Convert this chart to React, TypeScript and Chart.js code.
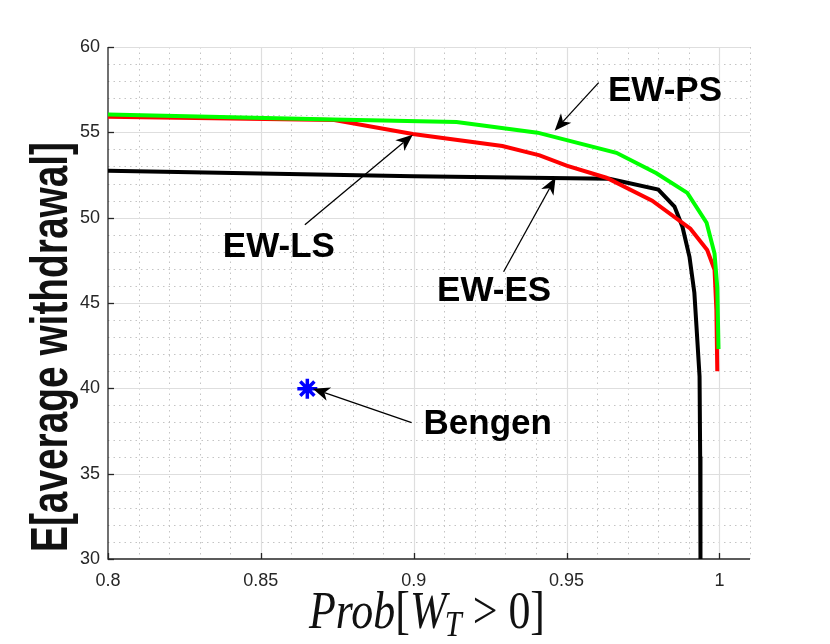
import React, { useEffect, useRef } from 'react';
import { Chart, registerables } from 'chart.js';

Chart.register(...registerables);

// ---- axis ticks ----
const xTicks = [0.8, 0.85, 0.9, 0.95, 1.0];
const xTickLabels = ['0.8', '0.85', '0.9', '0.95', '1'];
const yTicks = [30, 35, 40, 45, 50, 55, 60];
const yTickLabels = ['30', '35', '40', '45', '50', '55', '60'];
const xMin = 0.8;
const xMax = 1.01;
const yMin = 30;
const yMax = 60;
const xMinorStep = 0.01;
const yMinorStep = 1;

// ---- series: EW-PS (green) ----
const psX = [0.8, 0.8735, 0.914, 0.9405, 0.9663, 0.9794, 0.9895, 0.9958, 0.9984, 0.9993, 0.9997];
const psY = [56.05, 55.75, 55.6, 54.98, 53.8, 52.6, 51.45, 49.7, 47.9, 45.9, 42.3];

// ---- series: EW-LS (red) ----
const lsX = [0.8, 0.874, 0.8997, 0.929, 0.9412, 0.95, 0.963, 0.978, 0.9905, 0.996, 0.9984, 0.999, 0.9993];
const lsY = [55.92, 55.72, 54.9, 54.2, 53.65, 53.05, 52.34, 51.0, 49.35, 48.1, 46.95, 44.6, 41.0];

// ---- series: EW-ES (black) ----
const esX = [0.8, 0.9, 0.964, 0.98, 0.9853, 0.9879, 0.9902, 0.9918, 0.9925, 0.9935, 0.9937, 0.9938];
const esY = [52.75, 52.42, 52.28, 51.65, 50.65, 49.47, 47.71, 45.6, 43.6, 40.7, 36.0, 30.0];

// ---- Bengen point ----
const bengenX = [0.8652];
const bengenY = [39.98];

// ---- annotations (data coordinates) ----
const annotationTexts = ['EW-PS', 'EW-LS', 'EW-ES', 'Bengen'];
const annotationTextX = [0.9822, 0.8559, 0.9263, 0.9242];
const annotationTextY = [56.86, 47.71, 45.13, 37.34];
const arrowTailX = [0.9605, 0.8644, 0.9294, 0.8993];
const arrowTailY = [57.91, 49.59, 46.83, 37.99];
const arrowHeadX = [0.9461, 0.8997, 0.9464, 0.867];
const arrowHeadY = [55.1, 54.86, 52.35, 39.98];

const xAxisLabelParts = ['Prob', '[', 'W', 'T', ' > ', '0]'];
const yAxisLabel = 'E[average withdrawal]';

const AXIS_COLOR = '#262626';

function drawArrow(ctx: CanvasRenderingContext2D, x0: number, y0: number, x1: number, y1: number) {
  const dx = x1 - x0;
  const dy = y1 - y0;
  const len = Math.hypot(dx, dy);
  const ux = dx / len;
  const uy = dy / len;
  const nx = -uy;
  const ny = ux;
  const L = 17;
  const W = 14;
  const back = 0.72;
  ctx.save();
  ctx.strokeStyle = '#000';
  ctx.fillStyle = '#000';
  ctx.lineWidth = 1.3;
  ctx.beginPath();
  ctx.moveTo(x0, y0);
  ctx.lineTo(x1 - ux * L * back, y1 - uy * L * back);
  ctx.stroke();
  ctx.beginPath();
  ctx.moveTo(x1, y1);
  ctx.lineTo(x1 - ux * L + nx * W / 2, y1 - uy * L + ny * W / 2);
  ctx.lineTo(x1 - ux * L * back, y1 - uy * L * back);
  ctx.lineTo(x1 - ux * L - nx * W / 2, y1 - uy * L - ny * W / 2);
  ctx.closePath();
  ctx.fill();
  ctx.restore();
}

const decorPlugin = {
  id: 'matlabDecor',
  beforeDatasetsDraw(chart: any) {
    const { ctx, chartArea } = chart;
    const xs = chart.scales.x;
    const ys = chart.scales.y;
    const { left, right, top, bottom } = chartArea;
    ctx.save();
    // minor grid
    ctx.strokeStyle = '#c4c4c4';
    ctx.lineWidth = 1;
    ctx.setLineDash([1.5, 4]);
    const nx = Math.round((xMax - xMin) / xMinorStep);
    for (let i = 1; i <= nx; i++) {
      const v = xMin + i * xMinorStep;
      if (xTicks.some((t) => Math.abs(t - v) < 1e-9)) continue;
      const px = Math.round(xs.getPixelForValue(v)) + 0.5;
      ctx.beginPath();
      ctx.moveTo(px, top);
      ctx.lineTo(px, bottom);
      ctx.stroke();
    }
    const ny = Math.round((yMax - yMin) / yMinorStep);
    for (let i = 1; i < ny; i++) {
      const v = yMin + i * yMinorStep;
      if (yTicks.some((t) => Math.abs(t - v) < 1e-9)) continue;
      const py = Math.round(ys.getPixelForValue(v)) + 0.5;
      ctx.beginPath();
      ctx.moveTo(left, py);
      ctx.lineTo(right, py);
      ctx.stroke();
    }
    // major grid
    ctx.setLineDash([]);
    ctx.strokeStyle = '#dedede';
    ctx.lineWidth = 1.2;
    xTicks.forEach((v) => {
      if (v === xMin) return;
      const px = Math.round(xs.getPixelForValue(v)) + 0.5;
      ctx.beginPath();
      ctx.moveTo(px, top);
      ctx.lineTo(px, bottom);
      ctx.stroke();
    });
    yTicks.forEach((v) => {
      if (v === yMin) return;
      const py = Math.round(ys.getPixelForValue(v)) + 0.5;
      ctx.beginPath();
      ctx.moveTo(left, py);
      ctx.lineTo(right, py);
      ctx.stroke();
    });
    // axes
    ctx.strokeStyle = AXIS_COLOR;
    ctx.lineWidth = 1.3;
    ctx.beginPath();
    ctx.moveTo(left, top);
    ctx.lineTo(left, bottom);
    ctx.lineTo(right, bottom);
    ctx.stroke();
    // inward ticks
    xTicks.forEach((v) => {
      const px = Math.round(xs.getPixelForValue(v)) + 0.5;
      ctx.beginPath();
      ctx.moveTo(px, bottom);
      ctx.lineTo(px, bottom - 6);
      ctx.stroke();
    });
    yTicks.forEach((v) => {
      const py = Math.round(ys.getPixelForValue(v)) + 0.5;
      ctx.beginPath();
      ctx.moveTo(left, py);
      ctx.lineTo(left + 6, py);
      ctx.stroke();
    });
    ctx.restore();
  },
  afterDraw(chart: any) {
    const { ctx, chartArea } = chart;
    const xs = chart.scales.x;
    const ys = chart.scales.y;
    ctx.save();
    // annotations
    annotationTexts.forEach((t, i) => {
      drawArrow(
        ctx,
        xs.getPixelForValue(arrowTailX[i]),
        ys.getPixelForValue(arrowTailY[i]),
        xs.getPixelForValue(arrowHeadX[i]),
        ys.getPixelForValue(arrowHeadY[i])
      );
      ctx.fillStyle = '#000';
      ctx.font = 'bold 35px "Liberation Sans", Arial, sans-serif';
      ctx.textAlign = 'center';
      ctx.textBaseline = 'alphabetic';
      ctx.fillText(t, xs.getPixelForValue(annotationTextX[i]), ys.getPixelForValue(annotationTextY[i]));
    });

    // y axis label (bold, condensed)
    ctx.save();
    ctx.translate(chartArea.left - 41, (chartArea.top + chartArea.bottom) / 2 + 44);
    ctx.rotate(-Math.PI / 2);
    ctx.fillStyle = '#111';
    ctx.font = 'bold 52px "Liberation Sans", Arial, sans-serif';
    ctx.textAlign = 'center';
    ctx.textBaseline = 'alphabetic';
    ctx.fillText(yAxisLabel, 0, 0, 410);
    ctx.restore();

    // x axis label (LaTeX-like)
    const F = 52;
    const fonts = [
      `italic ${F}px "Liberation Serif", serif`,
      `${F}px "Liberation Serif", serif`,
      `italic ${F}px "Liberation Serif", serif`,
      `italic ${Math.round(F * 0.7)}px "Liberation Serif", serif`,
      `${F}px "Liberation Serif", serif`,
      `${F}px "Liberation Serif", serif`,
    ];
    const dys = [0, 0, 0, F * 0.16, 0, 0];
    const kern = [0, 0, -F * 0.04, 0, 0, 0];
    let total = 0;
    const widths = xAxisLabelParts.map((p, i) => {
      ctx.font = fonts[i];
      const w = ctx.measureText(p).width + kern[i];
      total += w;
      return w;
    });
    const target = 236;
    const sx = target / total;
    const cx = (chartArea.left + chartArea.right) / 2;
    ctx.save();
    ctx.translate(cx - 2 - target / 2, chartArea.bottom + 69);
    ctx.scale(sx, 1);
    ctx.fillStyle = '#111';
    ctx.textAlign = 'left';
    ctx.textBaseline = 'alphabetic';
    let xx = 0;
    xAxisLabelParts.forEach((p, i) => {
      ctx.font = fonts[i];
      ctx.fillText(p, xx, dys[i]);
      xx += widths[i];
    });
    ctx.restore();
    ctx.restore();
  },
};

export default function App() {
  const ref = useRef<HTMLCanvasElement | null>(null);
  useEffect(() => {
    if (!ref.current) return;
    const tickFont = { family: '"Liberation Sans", Arial, sans-serif', size: 18 };
    const chart = new Chart(ref.current, {
      type: 'scatter',
      data: {
        datasets: [
          {
            label: 'EW-PS',
            data: psX.map((x, i) => ({ x, y: psY[i] })),
            borderColor: '#00ff00',
            backgroundColor: '#00ff00',
            borderWidth: 4,
            pointRadius: 0,
            showLine: true,
            order: 1,
          },
          {
            label: 'EW-LS',
            data: lsX.map((x, i) => ({ x, y: lsY[i] })),
            borderColor: '#ff0000',
            backgroundColor: '#ff0000',
            borderWidth: 4,
            pointRadius: 0,
            showLine: true,
            order: 2,
          },
          {
            label: 'EW-ES',
            data: esX.map((x, i) => ({ x, y: esY[i] })),
            borderColor: '#000000',
            backgroundColor: '#000000',
            borderWidth: 4,
            pointRadius: 0,
            showLine: true,
            order: 3,
          },
          {
            label: 'Bengen',
            data: bengenX.map((x, i) => ({ x, y: bengenY[i] })),
            borderColor: '#0000ff',
            backgroundColor: '#0000ff',
            pointStyle: 'star',
            pointRadius: 10,
            pointBorderWidth: 3.5,
            borderWidth: 3.5,
            showLine: false,
            order: 0,
          },
        ],
      },
      options: {
        animation: false,
        responsive: false,
        maintainAspectRatio: false,
        layout: { padding: { left: 0, top: 47, right: 80, bottom: 0 } },
        plugins: {
          legend: { display: false },
          tooltip: { enabled: false },
        },
        scales: {
          x: {
            type: 'linear',
            min: xMin,
            max: xMax,
            grid: { display: false, drawTicks: false },
            border: { display: false },
            afterBuildTicks: (scale: any) => {
              scale.ticks = xTicks.map((v) => ({ value: v }));
            },
            afterFit: (scale: any) => {
              scale.height = 85;
            },
            ticks: {
              autoSkip: false,
              maxRotation: 0,
              padding: 11,
              color: AXIS_COLOR,
              font: tickFont,
              callback: (_v: any, i: number) => xTickLabels[i],
            },
          },
          y: {
            type: 'linear',
            min: yMin,
            max: yMax,
            grid: { display: false, drawTicks: false },
            border: { display: false },
            afterBuildTicks: (scale: any) => {
              scale.ticks = yTicks.map((v) => ({ value: v }));
            },
            afterFit: (scale: any) => {
              scale.width = 108;
            },
            ticks: {
              autoSkip: false,
              padding: 8,
              color: AXIS_COLOR,
              font: tickFont,
              callback: (_v: any, i: number) => yTickLabels[i],
            },
          },
        },
      },
      plugins: [decorPlugin],
    } as any);
    return () => chart.destroy();
  }, []);
  return (
    <div style={{ position: 'fixed', left: 0, top: 0, width: 830, height: 644, background: '#fff' }}>
      <canvas ref={ref} width={830} height={644} style={{ width: 830, height: 644, display: 'block' }} />
    </div>
  );
}
